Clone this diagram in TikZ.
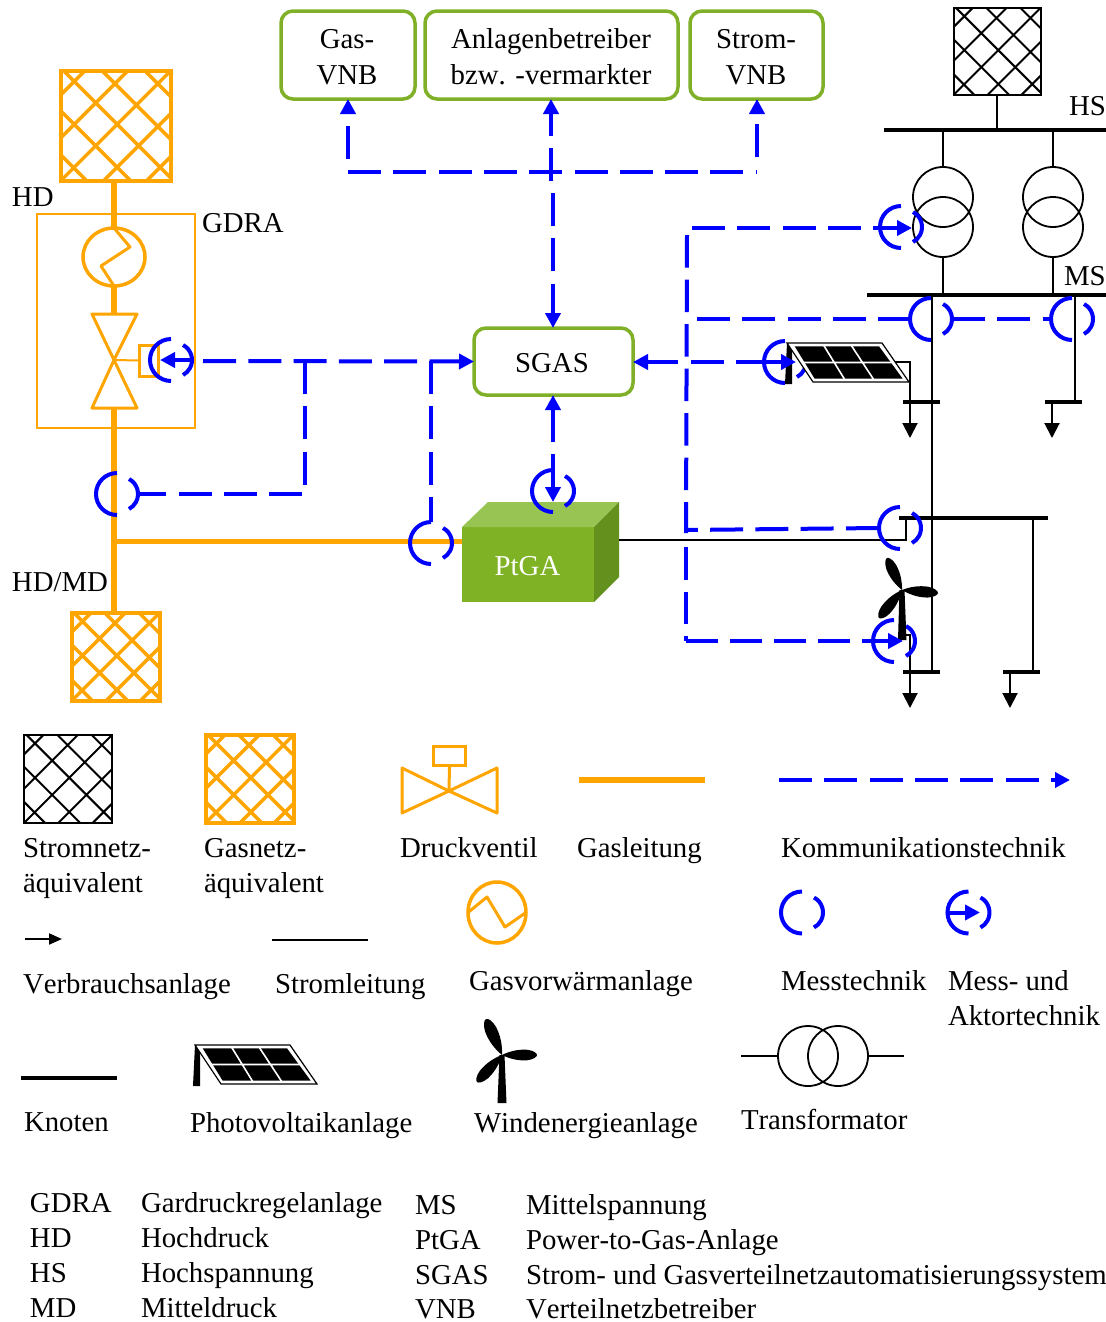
\documentclass[tikz,border=0pt]{standalone}
\usepackage{fontspec}
\setmainfont[Kerning=Off]{Liberation Serif}
\usetikzlibrary{arrows.meta,calc,shapes.geometric}
\definecolor{gasorange}{HTML}{FFA500}
\definecolor{boxgreen}{HTML}{7FB027}
\definecolor{ptfront}{HTML}{7FB325}
\definecolor{pttop}{HTML}{98C454}
\definecolor{ptside}{HTML}{64901E}
\definecolor{commblue}{HTML}{0000FF}
\newcommand{\px}{0.75pt}
\tikzset{
  x=0.75pt,y=-0.75pt,
  every node/.style={font=\fontsize{21.6}{26}\selectfont,inner sep=0pt,outer sep=0pt,text=black},
  lbl/.style={anchor=base west},
  clbl/.style={anchor=base,align=center},
  hatchbox/.style n args={3}{draw=#1,line width=#3*\px,minimum width=#2*\px,minimum height=#2*\px},
  agent/.style={draw=boxgreen,line width=3.5*\px,rounded corners=12*\px,align=center,fill=white},
  pipe/.style={draw=gasorange,line width=6*\px},
  gasthin/.style={draw=gasorange,line width=3*\px,line join=round},
  wire/.style={draw=black,line width=2*\px},
  bus/.style={draw=black,line width=4*\px},
  comm/.style={draw=commblue,line width=4*\px,dash pattern=on 33*\px off 12.3*\px},
  commsolid/.style={draw=commblue,line width=4*\px},
  ctip/.style={-{Triangle[width=15*\px,length=15*\px]}},
  ctipb/.style={{Triangle[width=15*\px,length=15*\px]}-},
  metarc/.style={draw=commblue,line width=4*\px},
  load/.style={draw=black,line width=2*\px,-{Triangle[width=15*\px,length=15*\px]}},
}
\newcommand{\hatchlines}[4]{%
  \begin{scope}[shift={(#1.north west)},x=#2*\px,y=-#2*\px]
    \draw[#3,line width=#4*\px,line cap=butt] (0.03,0)--(1,0.97) (0.38,0)--(1,0.62) (0.77,0)--(1,0.23) (0,0.36)--(0.64,1) (0,0.76)--(0.24,1)
      (0.22,0)--(0,0.22) (0.61,0)--(0,0.61) (1,0)--(0,1) (1,0.39)--(0.39,1) (1,0.78)--(0.78,1);
  \end{scope}}
\newcommand{\meter}[3]{%
  \coordinate (#1) at (#2,#3);
  \coordinate (#1-w) at (#2-21,#3);
  \coordinate (#1-e) at (#2+21,#3);
  \coordinate (#1-n) at (#2,#3-21);
  \draw[metarc] ($(#1)+(0,-21)$) arc[start angle=90,end angle=270,radius=21*\px];
  \draw[metarc] ($(#1)+(12,-15)$) arc[start angle=62,end angle=-62,radius=17*\px];
}
\newcommand{\pvpanel}[2]{%
  \begin{scope}[shift={(#1,#2)}]
    \fill[black] (0,0)--(5,3)--(5,41)--(-2,41)--cycle;
    \draw[black,line width=1.2*\px,fill=white] (0,0)--(95,0)--(122,39)--(26,39)--cycle;
    \fill[black] (7.7,3.3)--(92,3.3)--(115.7,35.7)--(27.7,35.7)--cycle;
    \draw[white,line width=1.6*\px] (17,19.5)--(105,19.5) (36.5,2)--(58,37) (64,2)--(87,37);
  \end{scope}}
\newcommand{\blade}[4]{%
  \begin{scope}[cm={#3,-#4,#4,#3,(#1,#2)}]
    \fill[black] (0,0) .. controls (0.2,0.1) and (0.45,0.17) .. (0.72,0.15)
      .. controls (0.9,0.13) and (1,0.05) .. (1,0)
      .. controls (1,-0.05) and (0.9,-0.13) .. (0.72,-0.15)
      .. controls (0.45,-0.17) and (0.2,-0.1) .. (0,0)--cycle;
  \end{scope}}
\begin{document}
\begin{tikzpicture}
\useasboundingbox (0,0) rectangle (1106,1322);
\path[fill=white] (0,0) rectangle (1106,1322);

% ---------- Gas side
\node[hatchbox={gasorange}{110}{4}] (gridTop) at (115.5,126) {};
\hatchlines{gridTop}{110}{gasorange}{3.5}
\node[hatchbox={gasorange}{88}{4}] (gridBot) at (115.5,657) {};
\hatchlines{gridBot}{88}{gasorange}{3.5}
\node[draw=gasorange,line width=2*\px,minimum width=158*\px,minimum height=214*\px] (gdra) at (116,321) {};
\node[draw=gasorange,ellipse,line width=3.5*\px,minimum width=62*\px,minimum height=58*\px] (heater) at (114,257) {};
\draw[gasthin] (heater.north)--(130,247)--(101,266)--(heater.south);
\coordinate (vC) at (114,360);
\coordinate (vT) at (114,314);
\coordinate (vB) at (114,408);
\draw[gasthin] (92,314)--(137,314)--(vC)--cycle;
\draw[gasthin] (92,408)--(137,408)--(vC)--cycle;
\node[draw=gasorange,line width=3*\px,minimum width=19*\px,minimum height=31*\px] (vAct) at (149,360.5) {};
\draw[draw=gasorange,line width=2*\px] (vC)--(vAct.west);
\draw[pipe] (gridTop.south -| vT)--(heater.north);
\draw[pipe] (heater.south)--(vT);
\coordinate (jMain) at (114,541);
\draw[pipe] (vB)--(gridBot.north -| vB);
\node[fill=ptfront,minimum width=132*\px,minimum height=75*\px] (ptga) at (528,564.5) {};
\node[clbl] (tPt) at (527.5,575) {\color{white}PtGA};
\draw[draw=gasorange,line width=5*\px] (jMain)--(ptga.west |- jMain);
\fill[pttop] (462,527)--(488,502)--(619,502)--(594,527)--cycle;
\fill[ptside] (594,527)--(619,502)--(619,577)--(594,602)--cycle;

% ---------- Power side
\node[hatchbox={black}{87}{2}] (gridHS) at (997,51.5) {};
\hatchlines{gridHS}{87}{black}{2}
\coordinate (hsL) at (884,130); \coordinate (hsR) at (1106,130);
\draw[bus] (hsL)--(hsR);
\draw[wire] (gridHS.south)--(gridHS.south |- hsL);
\node[circle,draw=black,line width=1.8*\px,minimum size=60*\px] (t1a) at (943,197) {};
\node[circle,draw=black,line width=1.8*\px,minimum size=60*\px] (t1b) at (943,227) {};
\node[circle,draw=black,line width=1.8*\px,minimum size=60*\px] (t2a) at (1053,197) {};
\node[circle,draw=black,line width=1.8*\px,minimum size=60*\px] (t2b) at (1053,227) {};
\coordinate (msL) at (867,295); \coordinate (msR) at (1106,295);
\draw[bus] (msL)--(msR);
\draw[wire] (t1a.north)--(t1a.north |- hsL);
\draw[wire] (t2a.north)--(t2a.north |- hsL);
\draw[wire] (t1b.south)--(t1b.south |- msL);
\draw[wire] (t2b.south)--(t2b.south |- msL);
% feeders
\coordinate (b1L) at (903,402); \coordinate (b1R) at (940,402);
\coordinate (b2L) at (1045,402); \coordinate (b2R) at (1082,402);
\coordinate (b3L) at (899,518); \coordinate (b3R) at (1048,518);
\coordinate (b4L) at (903,672); \coordinate (b4R) at (940,672);
\coordinate (b5L) at (1003,672); \coordinate (b5R) at (1040,672);
\draw[bus] (b1L)--(b1R); \draw[bus] (b2L)--(b2R); \draw[bus] (b3L)--(b3R);
\draw[bus] (b4L)--(b4R); \draw[bus] (b5L)--(b5R);
\coordinate (msA) at (931.5,295); \coordinate (msB) at (1075,295);
\draw[wire] (msA)--(msA |- b4L);
\draw[wire] (msB)--(msB |- b2L);
\coordinate (fB) at (1033,518); \draw[wire] (fB)--(fB |- b5L);
\coordinate (l1) at (910,402); \coordinate (l1e) at (910,438);
\coordinate (l2) at (1052,402); \coordinate (l2e) at (1052,438);
\coordinate (l3) at (910,672); \coordinate (l3e) at (910,708);
\coordinate (l4) at (1010,672); \coordinate (l4e) at (1010,708);
\draw[load] (l1)--(l1e); \draw[load] (l2)--(l2e); \draw[load] (l3)--(l3e); \draw[load] (l4)--(l4e);
\coordinate (pvOut) at (870,362);
\draw[wire] (pvOut)-|(l1);
\coordinate (ptOut) at (619,540); \coordinate (b3T) at (906,518);
\draw[wire] (ptOut)-|(b3T);
\coordinate (wOut) at (903,635);
\draw[wire] (wOut)-|(l3);

% ---------- Meters
\meter{mGDRA}{171}{360}
\meter{mHD}{117}{494}
\meter{mPt}{431}{543}
\meter{mPtGA}{553}{491}
\meter{mT}{901}{227}
\meter{mMS1}{931}{319}
\meter{mMS2}{1072}{319}
\meter{mPV}{785}{362}
\meter{mB3}{900}{528}
\meter{mW}{894}{641}

% ---------- Generators
\pvpanel{787}{343}
\fill[black] (899.5,590)--(904.5,590)--(906.5,640)--(898,640)--cycle;
\blade{902}{590}{-15}{-32}
\blade{902}{590}{36}{3}
\blade{902}{590}{-23}{28}

% ---------- Agents
\node[agent,minimum width=134*\px,minimum height=88*\px] (gasvnb) at (348,55) {};
\node[agent,minimum width=253*\px,minimum height=88*\px] (betr) at (551.5,55) {};
\node[agent,minimum width=133*\px,minimum height=88*\px] (stromvnb) at (756.5,55) {};
\node[agent,minimum width=159*\px,minimum height=67*\px] (sgas) at (553.5,361.5) {};
\node[clbl] (tGas1) at (347,48) {Gas-};
\node[clbl] (tGas2) at (347,84) {VNB};
\node[clbl] (tBet1) at (551,48) {Anlagenbetreiber};
\node[clbl] (tBet2) at (551,84) {bzw. -vermarkter};
\node[clbl] (tStr1) at (756,48) {Strom-};
\node[clbl] (tStr2) at (756,84) {VNB};
\node[clbl] (tSgas) at (552,372) {SGAS};

% ---------- Communication
\coordinate (c1) at (348,172); \coordinate (c1u) at (348,159);
\coordinate (c2) at (757,172); \coordinate (c2u) at (757,157);
\draw[comm] (c1)--(c2);
\draw[comm,ctip] (c1u)--(gasvnb.south -| c1u);
\draw[comm,ctip] (c2u)--(stromvnb.south -| c2u);
\coordinate (c3) at (551,181); \coordinate (c4) at (553,193);
\draw[comm,ctip] (c3)--(betr.south -| c3);
\draw[comm,ctip] (c4)--(sgas.north -| c4);
\coordinate (jA) at (305,361); \coordinate (jB) at (431,361); \coordinate (gS) at (203,361);
\draw[comm,ctip] (gS)--(sgas.west);
\draw[comm] (jA)|-(mHD-e);
\draw[comm] (jB)--(mPt-n);
\draw[commsolid,ctip] (mGDRA-e)--(160,360);
\draw[comm,dash phase=5*\px,ctip] (mPV-w)--(mPV-w -| sgas.east);
\coordinate (mPVtip) at (796,362);
\draw[commsolid,ctip] (mPV-w)--(mPVtip);
\coordinate (sbot) at (553,395);
\draw[comm,ctipb] (sbot)--(mPtGA-n);
\draw[commsolid,ctip] (mPtGA-n)--(553,502);
\coordinate (v1) at (692,228); \coordinate (v1b) at (687,235); \coordinate (v3) at (686,530);
\coordinate (v3b) at (686,533); \coordinate (v4) at (686,547); \coordinate (v2) at (686,641);
\coordinate (hMS) at (697,319);
\draw[comm,dash pattern=on 32.5*\px off 12*\px] (v1b)--(v3b);
\draw[comm,dash pattern=on 32.5*\px off 12*\px] (v4)--(v2);
\draw[comm,ctip] (v1)--(912,228);
\draw[comm] (hMS)--(mMS1-w);
\draw[comm] (mMS1-e)--(mMS2-w);
\draw[comm] (mB3-w)--(v3);
\draw[comm,dash pattern=on 32*\px off 12*\px] (v2)--(mW-w);
\draw[commsolid,ctip] (mW-w)--(903,641);

% ---------- Diagram labels
\node[lbl] (lHD) at (12,206) {HD};
\node[lbl] (lGDRA) at (202,232) {GDRA};
\node[lbl] (lHDMD) at (12,591) {HD/MD};
\node[lbl] (lHS) at (1069,115) {HS};
\node[lbl] (lMS) at (1064,285) {MS};

% ---------- Legend symbols
\node[hatchbox={black}{88}{2}] (lgA) at (68,779) {};
\hatchlines{lgA}{88}{black}{2}
\node[hatchbox={gasorange}{88}{4}] (lgB) at (249.5,779) {};
\hatchlines{lgB}{88}{gasorange}{3.5}
\coordinate (lvC) at (449,791);
\draw[gasthin] (402,768)--(402,813)--(lvC)--cycle;
\draw[gasthin] (497,768)--(497,813)--(lvC)--cycle;
\node[draw=gasorange,line width=3*\px,minimum width=32*\px,minimum height=19*\px] (lvA) at (449.5,756) {};
\draw[gasthin] (lvC)--(lvA.south);
\coordinate (lgL) at (579,780); \coordinate (lgR) at (705,780);
\draw[pipe] (lgL)--(lgR);
\coordinate (lcL) at (779,780); \coordinate (lcR) at (1070,780);
\draw[comm,ctip] (lcL)--(lcR);
\node[draw=gasorange,ellipse,line width=3.5*\px,minimum width=58*\px,minimum height=61*\px] (lheat) at (497,912.5) {};
\draw[gasthin] (lheat.west)--(487,897)--(505,927)--(lheat.east);
\meter{lm1}{802}{912.5}
\meter{lm2}{968.5}{912.5}
\draw[commsolid,ctip] (lm2-w)--(980,912.5);
\coordinate (laL) at (25,939); \coordinate (laR) at (62,939);
\draw[wire,-{Triangle[width=11*\px,length=13*\px]}] (laL)--(laR);
\coordinate (lsL) at (272,940); \coordinate (lsR) at (368,940);
\draw[wire] (lsL)--(lsR);
\coordinate (lkL) at (21,1078); \coordinate (lkR) at (117,1078);
\draw[bus] (lkL)--(lkR);
\pvpanel{195}{1045}
\fill[black] (499.5,1055)--(504.5,1055)--(506.5,1103)--(497.5,1103)--cycle;
\blade{502}{1055}{-16}{-36}
\blade{502}{1055}{35}{0}
\blade{502}{1055}{-25}{27}
\node[circle,draw=black,line width=1.8*\px,minimum size=60*\px] (lt1) at (808,1056) {};
\node[circle,draw=black,line width=1.8*\px,minimum size=60*\px] (lt2) at (838,1056) {};
\coordinate (ltL) at (741,1056); \coordinate (ltR) at (904,1056);
\draw[wire] (ltL)--(lt1.west);
\draw[wire] (lt2.east)--(ltR);

% ---------- Legend texts
\node[lbl] (x1) at (23,857) {Stromnetz-};
\node[lbl] (x2) at (23,892) {äquivalent};
\node[lbl] (x3) at (204,857) {Gasnetz-};
\node[lbl] (x4) at (204,892) {äquivalent};
\node[lbl] (x5) at (400,857) {Druckventil};
\node[lbl] (x6) at (577,857) {Gasleitung};
\node[lbl] (x7) at (781,857) {Kommunikationstechnik};
\node[lbl] (x8) at (23,993) {Verbrauchsanlage};
\node[lbl] (x9) at (275,993) {Stromleitung};
\node[lbl] (x10) at (469,990) {Gasvorwärmanlage};
\node[lbl] (x11) at (781,990) {Messtechnik};
\node[lbl] (x12) at (948,990) {Mess- und};
\node[lbl] (x13) at (948,1025) {Aktortechnik};
\node[lbl] (x14) at (24,1131) {Knoten};
\node[lbl] (x15) at (190,1132) {Photovoltaikanlage};
\node[lbl] (x16) at (474,1132) {Windenergieanlage};
\node[lbl] (x17) at (741,1129) {Transformator};
% abbreviations
\node[lbl] (a1) at (30,1212) {GDRA};
\node[lbl] (a2) at (141,1212) {Gardruckregelanlage};
\node[lbl] (a3) at (30,1247) {HD};
\node[lbl] (a4) at (141,1247) {Hochdruck};
\node[lbl] (a5) at (30,1282) {HS};
\node[lbl] (a6) at (141,1282) {Hochspannung};
\node[lbl] (a7) at (30,1317) {MD};
\node[lbl] (a8) at (141,1317) {Mitteldruck};
\node[lbl] (a9) at (415,1214) {MS};
\node[lbl] (a10) at (526,1214) {Mittelspannung};
\node[lbl] (a11) at (415,1249) {PtGA};
\node[lbl] (a12) at (526,1249) {Power-to-Gas-Anlage};
\node[lbl] (a13) at (415,1284) {SGAS};
\node[lbl] (a14) at (526,1284) {Strom- und Gasverteilnetzautomatisierungssystem};
\node[lbl] (a15) at (415,1318) {VNB};
\node[lbl] (a16) at (526,1318) {Verteilnetzbetreiber};
\end{tikzpicture}
\end{document}
